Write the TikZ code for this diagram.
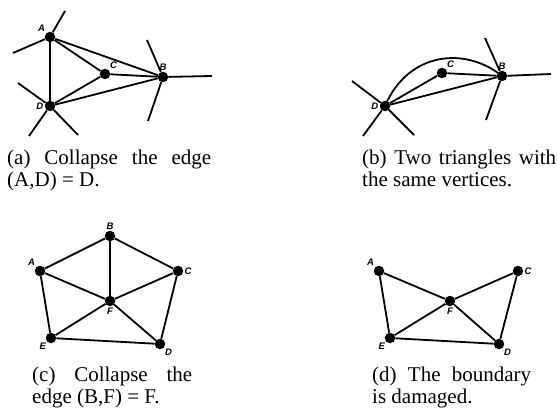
\documentclass[tikz,border=0pt]{standalone}
\usepackage{fontspec}
\setmainfont{Liberation Serif}
\setsansfont{Liberation Sans}
\usepackage{tikz}
\usetikzlibrary{calc}

\tikzset{
    vert/.style={circle,fill=black,inner sep=0pt,minimum size=10.5pt},
    vlab/.style={font=\sffamily\bfseries\itshape\fontsize{9.5}{10}\selectfont,inner sep=1pt},
    edge/.style={line width=1.8pt},
    capt/.style={anchor=north west,inner sep=0pt,align=justify,font=\fontsize{21}{22}\selectfont}
}

\begin{document}
\begin{tikzpicture}[x=1pt,y=-1pt]
            \useasboundingbox (0,0) rectangle (557,409);

            % Panel a
            \node[vert,label={[vlab]above left:A}] (a-A) at (50,37) {};
            \node[vert,label={[vlab]above right:C}] (a-C) at (105,74) {};
            \node[vert,label={[vlab]above:B}] (a-B) at (163,77) {};
            \node[vert,label={[vlab]left:D}] (a-D) at (50,106) {};
            \coordinate (a-A1) at (65,11);
            \coordinate (a-A2) at (13,53);
            \coordinate (a-B1) at (147,40);
            \coordinate (a-B2) at (212,76);
            \coordinate (a-B3) at (148,121);
            \coordinate (a-D1) at (18,83);
            \coordinate (a-D2) at (29,136);
            \coordinate (a-D3) at (78,135);
            \foreach \u/\v in {A/D,A/C,A/B,C/B,D/C,D/B,A/A1,A/A2,B/B1,B/B2,B/B3,D/D1,D/D2,D/D3}
                \draw[edge] (a-\u) -- (a-\v);
            \node[capt,text width=204pt] (capa) at (7,150) {(a) Collapse the edge (A,D) = D.};

            % Panel b
            \node[vert,label={[vlab]left:D}] (b-D) at (385,106) {};
            \node[vert,label={[vlab]above right:C}] (b-C) at (442,73) {};
            \node[vert,label={[vlab]above:B}] (b-B) at (502,76) {};
            \coordinate (b-D1) at (352,81);
            \coordinate (b-D2) at (363,136);
            \coordinate (b-D3) at (414,135);
            \coordinate (b-B1) at (485,38);
            \coordinate (b-B2) at (551,74);
            \coordinate (b-B3) at (486,120);
            \foreach \u/\v in {D/C,C/B,D/B,D/D1,D/D2,D/D3,B/B1,B/B2,B/B3}
                \draw[edge] (b-\u) -- (b-\v);
            \draw[edge] (b-D.center) .. controls (408,52) and (465,46) .. (b-B.center);
            \node[capt,text width=194pt] (capb) at (362,150) {(b) Two triangles with the same vertices.};

            % Panel c
            \node[vert,label={[vlab]above:B}] (c-B) at (110,236) {};
            \node[vert,label={[vlab]above left:A}] (c-A) at (40,271) {};
            \node[vert,label={[vlab]right:C}] (c-C) at (178,271) {};
            \node[vert,label={[vlab]below:F}] (c-F) at (110,301) {};
            \node[vert,label={[vlab]below left:E}] (c-E) at (51,338) {};
            \node[vert,label={[vlab]below right:D}] (c-D) at (160,344) {};
            \foreach \u/\v in {A/B,B/C,C/D,D/E,E/A,F/A,F/B,F/C,F/D,F/E}
                \draw[edge] (c-\u) -- (c-\v);
            \node[capt,text width=160pt] (capc) at (32,367) {(c) Collapse the edge (B,F) = F.};

            % Panel d
            \node[vert,label={[vlab]above left:A}] (d-A) at (379,271) {};
            \node[vert,label={[vlab]right:C}] (d-C) at (518,271) {};
            \node[vert,label={[vlab]below:F}] (d-F) at (450,301) {};
            \node[vert,label={[vlab]below left:E}] (d-E) at (390,338) {};
            \node[vert,label={[vlab]below right:D}] (d-D) at (499,344) {};
            \foreach \u/\v in {A/F,F/C,C/D,D/E,E/A,E/F,F/D}
                \draw[edge] (d-\u) -- (d-\v);
            \node[capt,text width=159pt] (capd) at (372,367) {(d) The boundary is damaged.};

        \end{tikzpicture}
\end{document}
